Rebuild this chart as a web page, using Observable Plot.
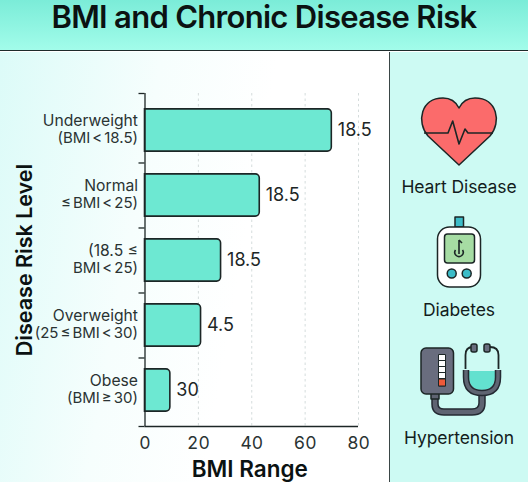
<!DOCTYPE html>
<html><head><meta charset="utf-8">
<script src="https://cdn.jsdelivr.net/npm/d3@7"></script>
<script src="https://cdn.jsdelivr.net/npm/@observablehq/plot@0.6"></script>
<style>
html,body{margin:0;padding:0;background:#fff}
#page{position:relative;width:528px;height:482px;overflow:hidden;font-family:Inter,sans-serif;color:#111a1a}
#head{position:absolute;left:0;top:0;width:528px;height:50px;box-sizing:content-box;border-bottom:1.5px solid #1d2b2b;background:linear-gradient(#7becd8,#a2fcea)}
#head div{position:absolute;left:0;right:0;top:3px;text-align:center;font-size:31px;font-weight:600;line-height:28px;letter-spacing:-.7px;white-space:nowrap;color:#0b1212}
#left{position:absolute;left:0;top:51.5px;width:389px;height:431px;background:linear-gradient(100deg,#dcfbf8 0,#f6fefd 35%,#fff 60%)}
#right{position:absolute;left:389px;top:51.5px;width:139px;height:431px;background:#cdfaf3;border-left:1.5px solid #3a4646;box-sizing:border-box}
#plot{position:absolute;left:0;top:51px}
#icons{position:absolute;left:0;top:0}
.cap{position:absolute;left:390px;width:138px;text-align:center;font-size:17.5px;line-height:20px;color:#131d1d;letter-spacing:-.1px}
.rangeLine{word-spacing:-2.2px}
</style></head>
<body><div id="page">
<div id="head"><div>BMI and Chronic Disease Risk</div></div>
<div id="left"></div><div id="right"></div>
<div id="plot"></div>
<svg id="icons" width="528" height="482" viewBox="0 0 528 482" fill="none" stroke="#1c2626" stroke-width="1.5" stroke-linejoin="round">
  <path d="M459 165L428 136C416 122 421 98 443 98C452 98 457 104 459 108C461 104 466 98 475 98C497 98 502 122 490 136Z" fill="#fb6b6b"/>
  <path d="M424 133H448L452.7 121L459 144L465 129L468 133H493" stroke-width="1.6"/>
  <rect x="455" y="217" width="8.5" height="10" fill="#3cbcc8"/>
  <rect x="437.5" y="227" width="43" height="60" rx="12" fill="#fff"/>
  <rect x="444.5" y="234" width="30" height="29" rx="3" fill="#a6dca3"/>
  <circle cx="451.7" cy="273.5" r="4.5" fill="#3cbcc8"/><circle cx="466.7" cy="273.5" r="4.5" fill="#3cbcc8"/>
  <path d="M459 240V254M459 240L462 243M455.5 250A4.2 4.2 0 1 0 462.5 250" stroke-width="1.6"/>
  <path d="M435 398V404Q435 412 444 412H472Q482 412 482 403V392" stroke="#242a33" stroke-width="7.5"/>
  <path d="M435 398V404Q435 412 444 412H472Q482 412 482 403V392" stroke="#5f6472" stroke-width="4.5"/>
  <rect x="431" y="393" width="8" height="6" fill="#5f6472"/>
  <rect x="421" y="348" width="32.5" height="46" rx="5" fill="#696d7e"/>
  <rect x="438.5" y="354.5" width="7" height="31.5" fill="#fff" stroke-width="1"/>
  <path d="M438.5 360.5h7M438.5 366.5h7M438.5 372.5h7M438.5 378.5h7" stroke-width="1"/>
  <rect x="438.5" y="379" width="7" height="7" fill="#ee5a3a" stroke-width="1"/>
  <path d="M469 371H495V376Q495 390 482 390Q469 390 469 376Z" fill="#63e1cf" stroke="none"/>
  <path d="M466 370V377Q466 393 482 393Q498 393 498 377V370" stroke="#242a33" stroke-width="6.5"/>
  <path d="M466 370V377Q466 393 482 393Q498 393 498 377V370" stroke="#5f6472" stroke-width="3.5"/>
  <path d="M465.5 369V355Q465.5 347 473 347M498.5 369V355Q498.5 347 490 347" stroke-width="1.8"/>
  <rect x="471" y="344" width="6" height="8" rx="2" fill="#696d7e"/><rect x="484" y="344" width="6" height="8" rx="2" fill="#696d7e"/>
</svg>
<div class="cap" style="top:177px">Heart Disease</div>
<div class="cap" style="top:300px">Diabetes</div>
<div class="cap" style="top:428px">Hypertension</div>
</div>
<script>
const categoryNames = ["Underweight", "Normal", "(18.5 ≤", "Overweight", "Obese"];
const categoryRanges = ["(BMI < 18.5)", "≤ BMI < 25)", "BMI < 25)", "(25 ≤ BMI < 30)", "(BMI ≥ 30)"];
const barValues = [70, 43, 28.5, 21, 9.5];
const valueLabels = ["18.5", "18.5", "18.5", "4.5", "30"];
const xTicks = [0, 20, 40, 60, 80];
const rowEdges = [-0.569, 0.5, 1.5, 2.5, 3.5, 4.554];
const barHalf = 0.325;
const xTitle = "BMI Range";
const yTitle = "Disease Risk Level";

const rows = categoryNames.map((name, i) => ({name, range: categoryRanges[i], i, v: barValues[i], label: valueLabels[i]}));
const ink = "#1c2626";
const chart = Plot.plot({
  width: 389, height: 431,
  marginLeft: 144.5, marginRight: 31, marginTop: 42, marginBottom: 56,
  style: {background: "transparent", fontFamily: "Inter, sans-serif", color: ink},
  x: {domain: [0, 80], label: null},
  y: {domain: [rowEdges[0], rowEdges[5]], reverse: true, label: null},
  marks: [
    Plot.ruleX(xTicks.slice(1), {y1: rowEdges[0], y2: rowEdges[5], stroke: "#d5dcdc", strokeDasharray: "2.5 3", strokeWidth: 1}),
    Plot.rectX(rows, {x1: 0, x2: "v", y1: d => d.i - barHalf, y2: d => d.i + barHalf, fill: "#6de8d2", stroke: ink, strokeWidth: 1.6, rx2: 4}),
    Plot.ruleX([0], {y1: rowEdges[0], y2: rowEdges[5], stroke: ink, strokeWidth: 1.3}),
    Plot.ruleY([rowEdges[5]], {x1: 0, x2: 80, stroke: ink, strokeWidth: 1.3}),
    Plot.axisY({ticks: rowEdges, tickFormat: () => "", tickSize: 6, label: null, strokeWidth: 1.3, stroke: ink}),
    Plot.axisX({ticks: xTicks, tickSize: 0, tickPadding: 10, fontSize: 17.5, label: null, fill: "#2a3333"}),
    Plot.text(rows, {x: 0, y: "i", text: "name", textAnchor: "end", dx: -7, dy: -10, fontSize: 15.7, fill: "#2a3333"}),
    Plot.text(rows, {x: 0, y: "i", text: "range", textAnchor: "end", dx: -7, dy: 8, fontSize: 15, fill: "#2a3333", className: "rangeLine"}),
    Plot.text(rows, {x: "v", y: "i", text: "label", textAnchor: "start", dx: 6, fontSize: 18, fill: "#1c2626"}),
    Plot.text([xTitle], {frameAnchor: "bottom", dx: -2, dy: 50, text: d => d, fontSize: 22.5, fontWeight: 600, fill: "#0b1212"}),
    Plot.text([yTitle], {frameAnchor: "left", textAnchor: "middle", dx: -119.5, rotate: -90, text: d => d, fontSize: 21.5, fontWeight: 600, fill: "#0b1212"})
  ]
});
document.getElementById("plot").append(chart);
</script>
</body></html>
